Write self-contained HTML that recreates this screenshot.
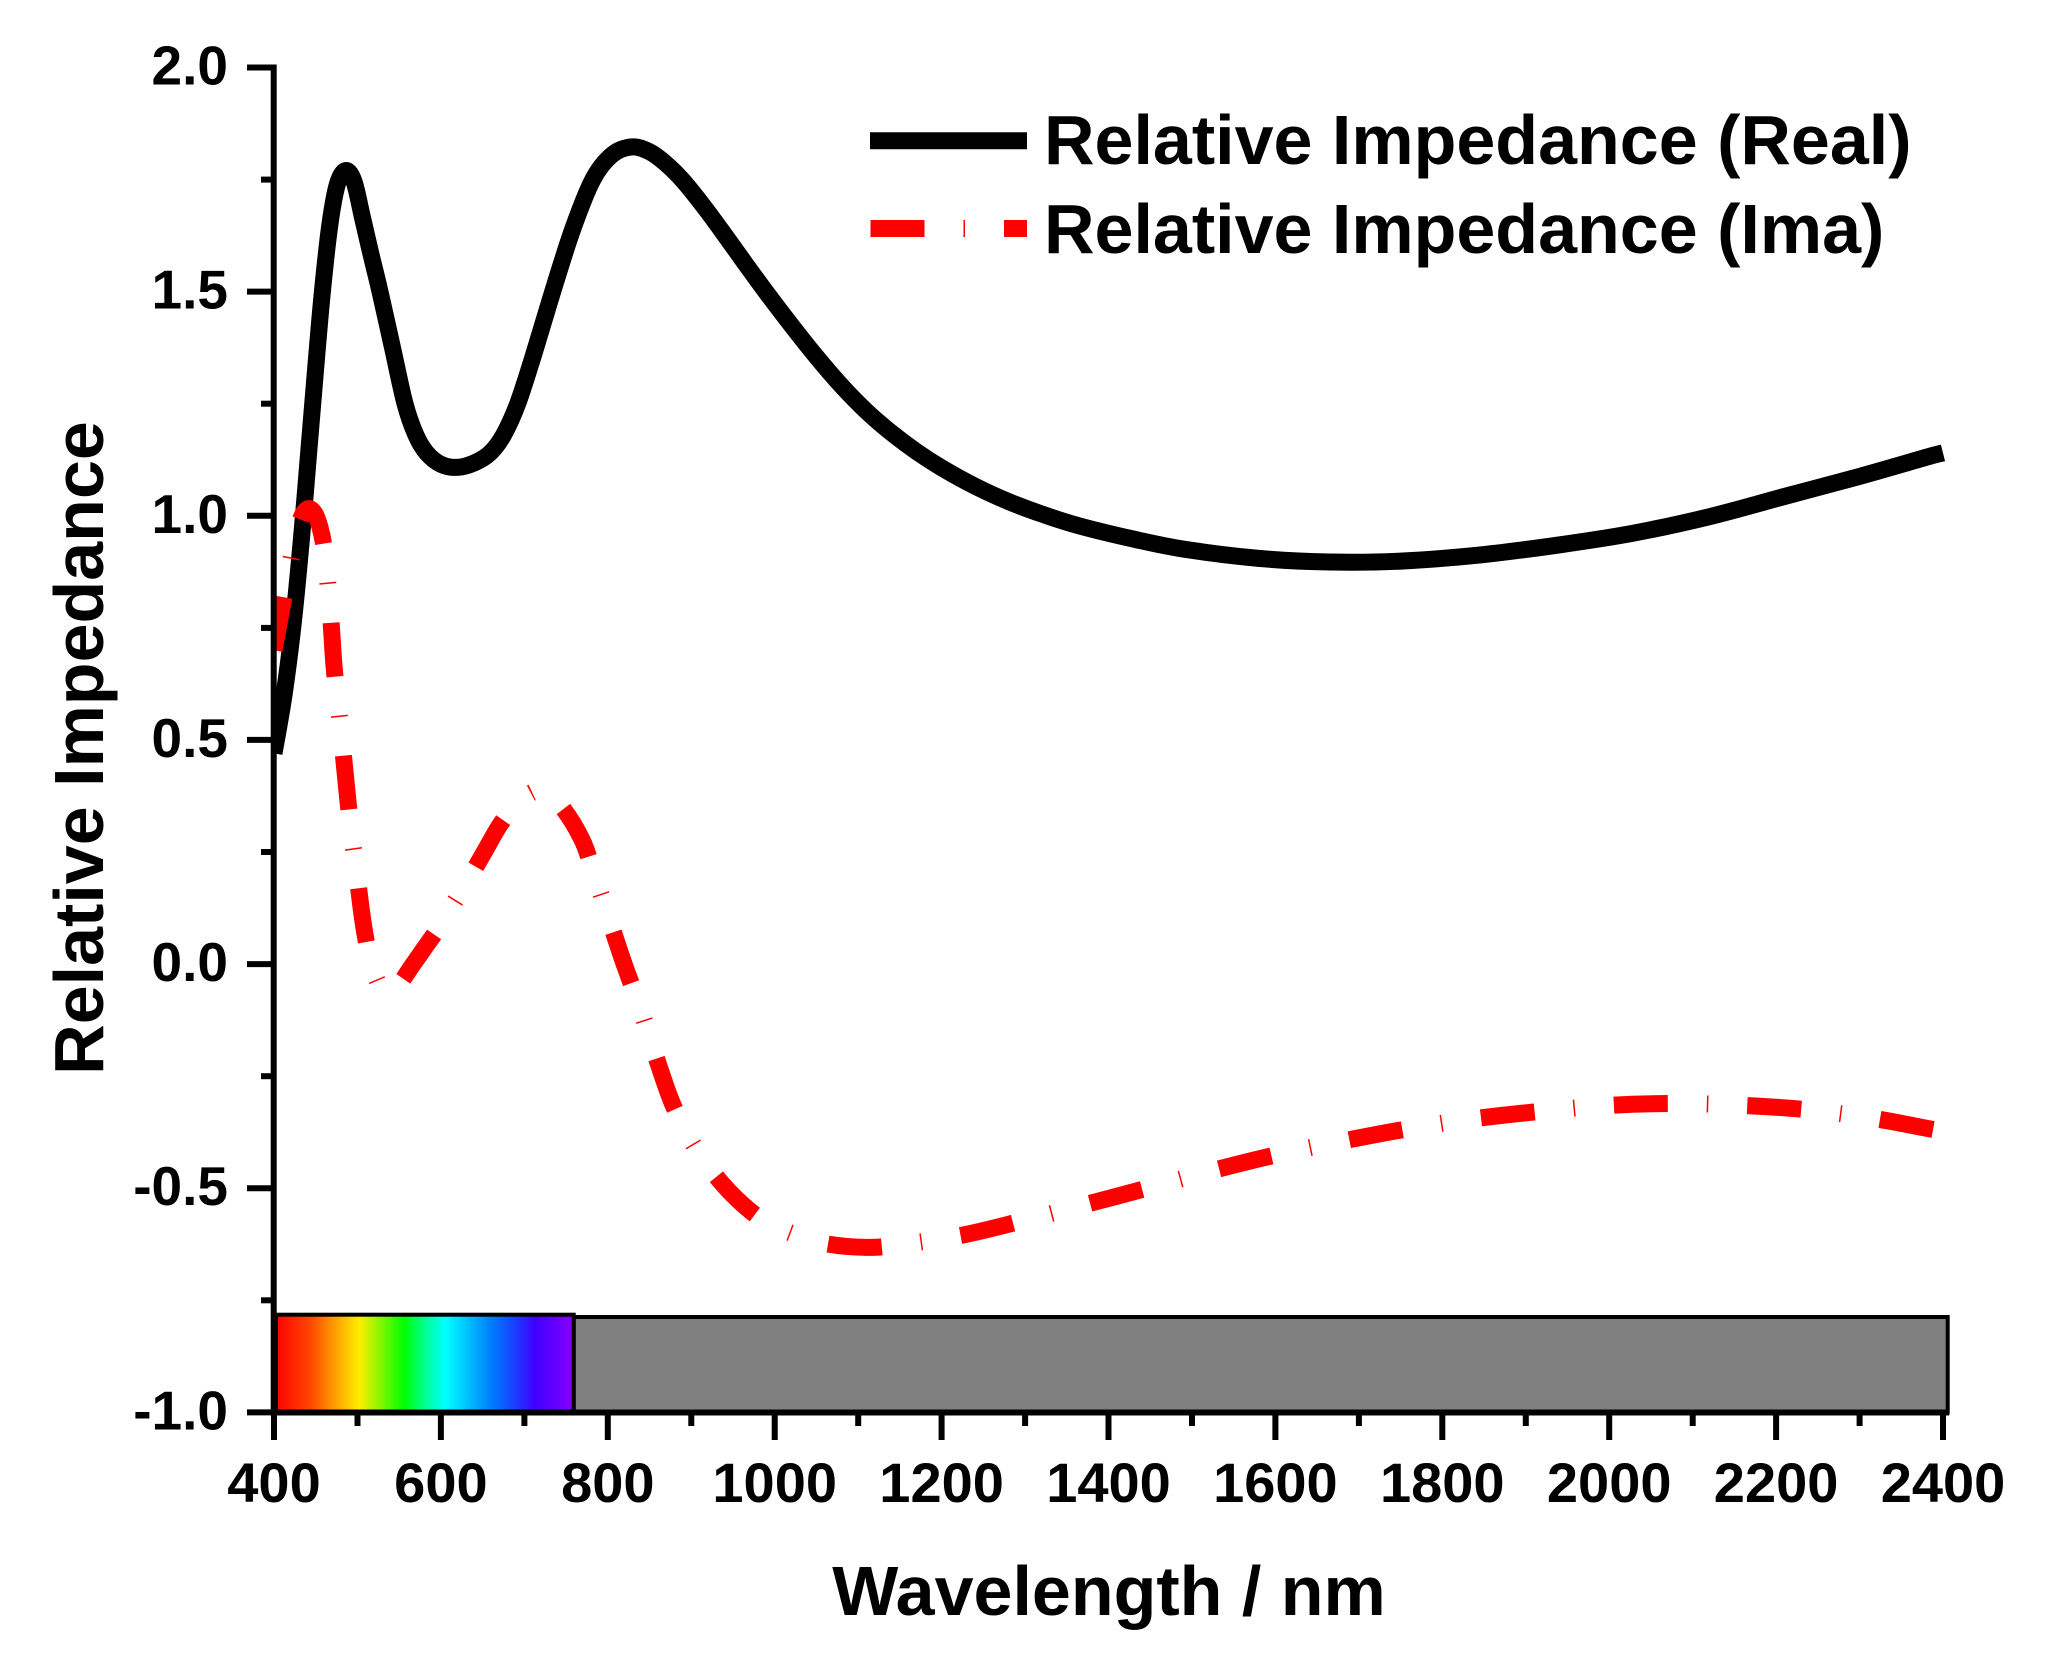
<!DOCTYPE html>
<html>
<head>
<meta charset="utf-8">
<style>
  html, body { margin: 0; padding: 0; background: #ffffff; }
  svg { display: block; }
  text { font-family: "Liberation Sans", Arial, sans-serif; font-weight: bold; fill: #000; }
</style>
</head>
<body>
<svg id="chart" width="2047" height="1661" viewBox="0 0 2047 1661" xmlns="http://www.w3.org/2000/svg">
  <defs>
    <linearGradient id="sp" x1="0" y1="0" x2="1" y2="0">
      <stop offset="0" stop-color="#ff0000"/>
      <stop offset="0.12" stop-color="#ff4a00"/>
      <stop offset="0.18" stop-color="#ff8c00"/>
      <stop offset="0.28" stop-color="#ffee00"/>
      <stop offset="0.43" stop-color="#00ff00"/>
      <stop offset="0.50" stop-color="#00ff90"/>
      <stop offset="0.57" stop-color="#00ffff"/>
      <stop offset="0.72" stop-color="#0080ff"/>
      <stop offset="0.80" stop-color="#1840ff"/>
      <stop offset="0.87" stop-color="#4000ff"/>
      <stop offset="1" stop-color="#8800ff"/>
    </linearGradient>
    <clipPath id="plot">
      <rect x="274" y="0" width="1680" height="1412"/>
    </clipPath>
  </defs>

  <rect x="0" y="0" width="2047" height="1661" fill="#ffffff"/>

  <!-- Curves -->
  <g clip-path="url(#plot)" fill="none">
    <polyline class="smooth" stroke="#000" stroke-width="17" stroke-linejoin="round" stroke-linecap="butt" fill="none"
      points="274,753.4 284,695.1 293.2,623.4 301.5,538.2 309,448.6 315.7,367.9 322.4,291.6 329.9,224.4 337.4,184.1 345.8,170.6 354.1,181.8 362.5,217.7 370.8,253.5 380,291.6 392.5,347.7 405,403.7 415.9,435.1 426.7,453 440.9,464.3 456.8,467.4 474.3,462.9 490.1,453 503.5,435.1 517.7,403.7 534.4,352.2 552.7,291.6 572.8,228.9 592.8,179.6 612,154.9 632,146.9 649.5,151.8 666.2,163.9 682.9,180.5 703.8,206.5 724.6,234.7 745.5,263.9 766.4,292.5 791.4,325.3 816.4,356.7 841.5,385.8 866.5,411.3 891.5,432.9 916.6,451.7 941.6,467.8 975,486.2 1008.4,501.5 1041.7,514 1078.5,525.7 1133.5,539.1 1185.3,549.4 1258.7,558.4 1329.6,562 1400.6,561.1 1481.5,554.8 1559.1,544.9 1632.6,533.3 1709.3,516.7 1784.4,496.5 1859.6,476.4 1928.8,456.6 1943,453"/>
    <polyline class="smooth" stroke="#ff0000" stroke-width="17" stroke-linejoin="round" stroke-linecap="butt" fill="none"
      stroke-dasharray="54 39 1.5 39"
      points="274,650.3 279,623.4 284,596.5 290.7,560.6 297.4,529.2 303.2,513.6 309,508.6 314.9,513.6 319.9,527 324.1,547.2 327.4,578.6 330.7,616.7 334.1,666.9 338.3,705.9 342.4,745.3 347.4,795.5 351.6,834.1 356.6,871.8 363.3,923.8 370.8,961.9 380,986.5 388.3,993.2 399.2,984.3 411.7,966.3 424.2,948.4 436.7,930.5 453.4,903.6 468.4,879.4 484.3,852 501,823.3 520.2,800.5 541.9,790.6 561.9,807.2 581.9,839.5 592.8,870 603.6,902.2 613.6,932.7 623.7,962.8 640.3,1008.9 657.9,1062.7 670.4,1098.6 682.9,1125.5 701.3,1156.9 730.5,1192.7 763,1220.1 799.7,1236.2 828.9,1244.3 866.5,1247.4 895.7,1245.2 961.6,1235.3 1025.1,1220.1 1089.3,1203.5 1151.9,1186.9 1217,1169.4 1281.2,1153.7 1346.3,1140.3 1411.4,1128.2 1477.3,1118.3 1543.2,1111.1 1610,1105.3 1675.1,1103.5 1741,1105.3 1807.8,1109.8 1872.9,1118.3 1926.3,1128.2 1943,1131.3"/>
  </g>

  <!-- Spectrum bar -->
  <rect x="573.7" y="1317" width="1374" height="95.5" fill="#808080" stroke="#000" stroke-width="4"/>
  <rect x="276" y="1314.7" width="297.7" height="97.8" fill="url(#sp)" stroke="#000" stroke-width="4"/>

  <!-- Axes -->
  <g stroke="#000" stroke-width="6" fill="none">
    <line x1="273.7" y1="64.5" x2="273.7" y2="1415.5"/>
    <line x1="270.7" y1="1412.5" x2="1949" y2="1412.5"/>
    <line x1="247" y1="67.5" x2="274" y2="67.5"/>
    <line x1="247" y1="291.6" x2="274" y2="291.6"/>
    <line x1="247" y1="515.8" x2="274" y2="515.8"/>
    <line x1="247" y1="739.9" x2="274" y2="739.9"/>
    <line x1="247" y1="964.1" x2="274" y2="964.1"/>
    <line x1="247" y1="1188.2" x2="274" y2="1188.2"/>
    <line x1="247" y1="1412.4" x2="274" y2="1412.4"/>
    <line x1="261" y1="179.6" x2="274" y2="179.6"/>
    <line x1="261" y1="403.7" x2="274" y2="403.7"/>
    <line x1="261" y1="627.9" x2="274" y2="627.9"/>
    <line x1="261" y1="852" x2="274" y2="852"/>
    <line x1="261" y1="1076.2" x2="274" y2="1076.2"/>
    <line x1="261" y1="1300.3" x2="274" y2="1300.3"/>
    <line x1="274" y1="1412" x2="274" y2="1440"/>
    <line x1="440.9" y1="1412" x2="440.9" y2="1440"/>
    <line x1="607.8" y1="1412" x2="607.8" y2="1440"/>
    <line x1="774.7" y1="1412" x2="774.7" y2="1440"/>
    <line x1="941.6" y1="1412" x2="941.6" y2="1440"/>
    <line x1="1108.5" y1="1412" x2="1108.5" y2="1440"/>
    <line x1="1275.4" y1="1412" x2="1275.4" y2="1440"/>
    <line x1="1442.3" y1="1412" x2="1442.3" y2="1440"/>
    <line x1="1609.2" y1="1412" x2="1609.2" y2="1440"/>
    <line x1="1776.1" y1="1412" x2="1776.1" y2="1440"/>
    <line x1="1943" y1="1412" x2="1943" y2="1440"/>
    <line x1="357.5" y1="1412" x2="357.5" y2="1426"/>
    <line x1="524.4" y1="1412" x2="524.4" y2="1426"/>
    <line x1="691.3" y1="1412" x2="691.3" y2="1426"/>
    <line x1="858.2" y1="1412" x2="858.2" y2="1426"/>
    <line x1="1025.1" y1="1412" x2="1025.1" y2="1426"/>
    <line x1="1192" y1="1412" x2="1192" y2="1426"/>
    <line x1="1358.9" y1="1412" x2="1358.9" y2="1426"/>
    <line x1="1525.8" y1="1412" x2="1525.8" y2="1426"/>
    <line x1="1692.7" y1="1412" x2="1692.7" y2="1426"/>
    <line x1="1859.6" y1="1412" x2="1859.6" y2="1426"/>
  </g>

  <!-- Y tick labels -->
  <g font-size="55" text-anchor="end">
    <text x="228" y="84.5">2.0</text>
    <text x="228" y="308.6">1.5</text>
    <text x="228" y="532.8">1.0</text>
    <text x="228" y="756.9">0.5</text>
    <text x="228" y="981.1">0.0</text>
    <text x="228" y="1205.2">-0.5</text>
    <text x="228" y="1429.4">-1.0</text>
  </g>

  <!-- X tick labels -->
  <g font-size="56" text-anchor="middle">
    <text x="274" y="1502">400</text>
    <text x="440.9" y="1502">600</text>
    <text x="607.8" y="1502">800</text>
    <text x="774.7" y="1502">1000</text>
    <text x="941.6" y="1502">1200</text>
    <text x="1108.5" y="1502">1400</text>
    <text x="1275.4" y="1502">1600</text>
    <text x="1442.3" y="1502">1800</text>
    <text x="1609.2" y="1502">2000</text>
    <text x="1776.1" y="1502">2200</text>
    <text x="1943" y="1502">2400</text>
  </g>

  <!-- Axis titles -->
  <text x="1109" y="1615" font-size="70" text-anchor="middle">Wavelength / nm</text>
  <text transform="translate(103,748) rotate(-90)" font-size="70" text-anchor="middle">Relative Impedance</text>

  <!-- Legend -->
  <line x1="870" y1="140.7" x2="1027" y2="140.7" stroke="#000" stroke-width="17"/>
  <text x="1044" y="164" font-size="70">Relative Impedance (Real)</text>
  <line x1="870.5" y1="228.5" x2="1027" y2="228.5" stroke="#ff0000" stroke-width="17" stroke-dasharray="54 39 1.5 39"/>
  <text x="1044" y="253" font-size="70">Relative Impedance (Ima)</text>
</svg>
<script>
(function(){
  try {
    var NS = "http://www.w3.org/2000/svg";
    var pls = document.querySelectorAll("polyline.smooth");
    for (var k = 0; k < pls.length; k++) {
      var pl = pls[k];
      var raw = pl.getAttribute("points").trim().split(/\s+/);
      var pts = raw.map(function(s){ var a = s.split(","); return [parseFloat(a[0]), parseFloat(a[1])]; });
      var n = pts.length;
      var d = "M" + pts[0][0] + "," + pts[0][1];
      for (var i = 0; i < n - 1; i++) {
        var p0 = pts[Math.max(i - 1, 0)], p1 = pts[i], p2 = pts[i + 1], p3 = pts[Math.min(i + 2, n - 1)];
        var c1x = p1[0] + (p2[0] - p0[0]) / 6, c1y = p1[1] + (p2[1] - p0[1]) / 6;
        var c2x = p2[0] - (p3[0] - p1[0]) / 6, c2y = p2[1] - (p3[1] - p1[1]) / 6;
        d += " C" + c1x.toFixed(2) + "," + c1y.toFixed(2) + " " + c2x.toFixed(2) + "," + c2y.toFixed(2) + " " + p2[0] + "," + p2[1];
      }
      var path = document.createElementNS(NS, "path");
      for (var j = 0; j < pl.attributes.length; j++) {
        var at = pl.attributes[j];
        if (at.name !== "points" && at.name !== "class") path.setAttribute(at.name, at.value);
      }
      path.setAttribute("d", d);
      pl.parentNode.replaceChild(path, pl);
    }
  } catch (e) {}
})();
</script>
</body>
</html>
